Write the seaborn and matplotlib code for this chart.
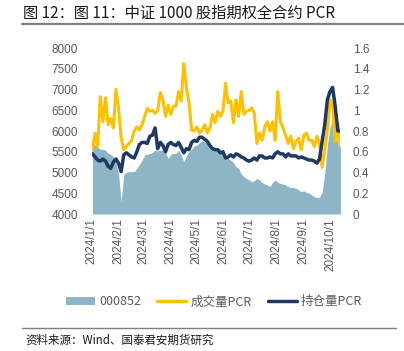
import numpy as np
import pandas as pd
import matplotlib
matplotlib.use("Agg")
import matplotlib.pyplot as plt
from matplotlib.patches import Patch
from matplotlib.lines import Line2D
import seaborn as sns

# ── Data (one point every 3 calendar days) ────────────────────────────────────
START = "2024-01-02"
N_POINTS = 96

index_000852 = [
    5840, 5660, 5600, 5560, 5560, 5540, 5460, 5440, 5380, 5260,
    4960, 4300, 4960, 5000, 5020, 5020, 5020, 5100, 5200, 5300,
    5420, 5440, 5460, 5480, 5540, 5520, 5540, 5540, 5480, 5340,
    5440, 5460, 5460, 5540, 5420, 5260, 5400, 5500, 5560, 5640,
    5660, 5720, 5760, 5740, 5680, 5640, 5620, 5600, 5600, 5520,
    5440, 5420, 5340, 5300, 5240, 5140, 5100, 4960, 4900, 4860,
    4820, 4780, 4800, 4860, 4820, 4760, 4720, 4700, 4660, 4760,
    4820, 4760, 4740, 4720, 4700, 4660, 4640, 4640, 4620, 4580,
    4540, 4560, 4520, 4500, 4460, 4420, 4400, 4400, 4520, 4980,
    5660, 6080, 6270, 6080, 5680, 5620,
]

volume_pcr = [
    0.62, 0.78, 0.65, 1.13, 0.89, 1.12, 0.86, 0.92, 0.83, 1.20,
    1.02, 0.73, 0.62, 0.65, 0.68, 0.71, 0.80, 0.84, 0.81, 0.86,
    0.94, 1.02, 0.99, 1.00, 0.97, 1.00, 1.17, 1.10, 0.94, 1.05,
    0.96, 1.04, 1.04, 1.18, 1.09, 1.45, 1.22, 1.07, 0.81, 0.80,
    0.84, 0.78, 0.81, 0.86, 0.78, 0.83, 0.96, 0.88, 0.99, 0.94,
    0.99, 1.26, 1.07, 1.09, 0.88, 1.10, 0.94, 1.18, 0.96, 0.99,
    1.00, 1.02, 0.97, 0.68, 0.78, 0.71, 0.84, 0.89, 0.80, 0.89,
    0.71, 1.18, 0.89, 0.83, 0.76, 0.68, 0.75, 0.63, 0.70, 0.73,
    0.62, 0.76, 0.78, 0.71, 0.71, 0.65, 0.75, 0.68, 0.45, 0.62,
    0.80, 1.10, 1.04, 0.70, 0.88, 0.63,
]

oi_pcr = [
    0.58, 0.55, 0.52, 0.51, 0.53, 0.51, 0.46, 0.44, 0.50, 0.53,
    0.49, 0.41, 0.57, 0.59, 0.57, 0.55, 0.54, 0.60, 0.67, 0.69,
    0.69, 0.68, 0.75, 0.76, 0.83, 0.63, 0.69, 0.66, 0.60, 0.67,
    0.69, 0.67, 0.66, 0.69, 0.64, 0.59, 0.63, 0.62, 0.69, 0.71,
    0.70, 0.74, 0.74, 0.72, 0.70, 0.66, 0.63, 0.62, 0.62, 0.59,
    0.60, 0.54, 0.55, 0.57, 0.55, 0.58, 0.57, 0.55, 0.54, 0.52,
    0.51, 0.52, 0.54, 0.52, 0.56, 0.56, 0.54, 0.54, 0.55, 0.54,
    0.58, 0.60, 0.58, 0.58, 0.55, 0.58, 0.56, 0.56, 0.56, 0.54,
    0.55, 0.54, 0.53, 0.52, 0.52, 0.51, 0.49, 0.53, 0.70, 0.86,
    1.10, 1.18, 1.22, 1.04, 0.80, 0.80,
]

tick_dates = [f"2024-{m:02d}-01" for m in range(1, 11)]
tick_labels = [f"2024/{m}/1" for m in range(1, 11)]

AREA_C = "#8DB5C5"
GOLD = "#FFC000"
NAVY = "#1F3864"
GREY = "#595959"
CJK = ["Noto Sans CJK SC", "DejaVu Sans"]

# ── Figure ────────────────────────────────────────────────────────────────────
sns.set_theme(style="white")
plt.rcParams["font.family"] = CJK

dates = pd.date_range(START, periods=N_POINTS, freq="3D")
df = pd.DataFrame({
    "date": dates,
    "000852": index_000852,
    "成交量PCR": volume_pcr,
    "持仓量PCR": oi_pcr,
})

fig = plt.figure(figsize=(4.04, 3.51), dpi=100)
ax = fig.add_axes([0.2267, 0.3903, 0.8426 - 0.2267, 0.8632 - 0.3903])

ax.fill_between(df["date"], 4000, df["000852"], color=AREA_C, linewidth=0, zorder=1)
ax.set_ylim(4000, 8000)
ax.set_yticks(np.arange(4000, 8001, 500))
ax.set_xlim(df["date"].iloc[0], df["date"].iloc[-1])

ax2 = ax.twinx()
sns.lineplot(data=df, x="date", y="成交量PCR", color=GOLD, linewidth=2.2, ax=ax2)
sns.lineplot(data=df, x="date", y="持仓量PCR", color=NAVY, linewidth=2.5, ax=ax2)
ax2.set_ylim(0, 1.6)
ax2.set_yticks(np.arange(0, 1.61, 0.2))
ax2.set_yticklabels(["0", "0.2", "0.4", "0.6", "0.8", "1", "1.2", "1.4", "1.6"])

ax.set_xticks(pd.to_datetime(tick_dates))
ax.set_xticklabels(tick_labels, rotation=90, fontsize=8.8, color=GREY,
                   family=["Liberation Sans", "DejaVu Sans"])
for a in (ax, ax2):
    a.set_xlabel("")
    a.set_ylabel("")
    a.tick_params(axis="both", length=0, pad=3, labelsize=8.5, labelcolor=GREY)
    for lab in a.get_yticklabels():
        lab.set_family(["Liberation Sans", "DejaVu Sans"])
    for s in a.spines.values():
        s.set_visible(False)
ax.tick_params(axis="y", pad=10)
ax2.tick_params(axis="y", pad=9)

# Title and rules
fig.text(0.058, 0.962, "图 12：图 11：中证 1000 股指期权全合约 PCR",
         fontsize=11, color="#1a1a1a", ha="left", va="center", family=CJK)
fig.add_artist(Line2D([0.055, 1.0], [0.931, 0.931], color="#7f7f7f", linewidth=1.6))
fig.add_artist(Line2D([0.055, 0.98], [0.066, 0.066], color="#7f7f7f", linewidth=1.0))
fig.text(0.062, 0.030, "资料来源：Wind、国泰君安期货研究",
         fontsize=8.3, color="#1a1a1a", ha="left", va="center", family=CJK)

# Legend
handles = [
    Patch(facecolor=AREA_C, edgecolor="none"),
    Line2D([], [], color=GOLD, linewidth=2.5),
    Line2D([], [], color=NAVY, linewidth=2.5),
]
fig.legend(handles, ["000852", "成交量PCR", "持仓量PCR"],
           loc="center", bbox_to_anchor=(0.53, 0.14), ncol=3, frameon=False,
           fontsize=9, labelcolor=GREY, handlelength=2.3, handleheight=0.6,
           handletextpad=0.35, columnspacing=1.3, prop={"family": CJK, "size": 9})

fig.savefig("out.png", dpi=100)
